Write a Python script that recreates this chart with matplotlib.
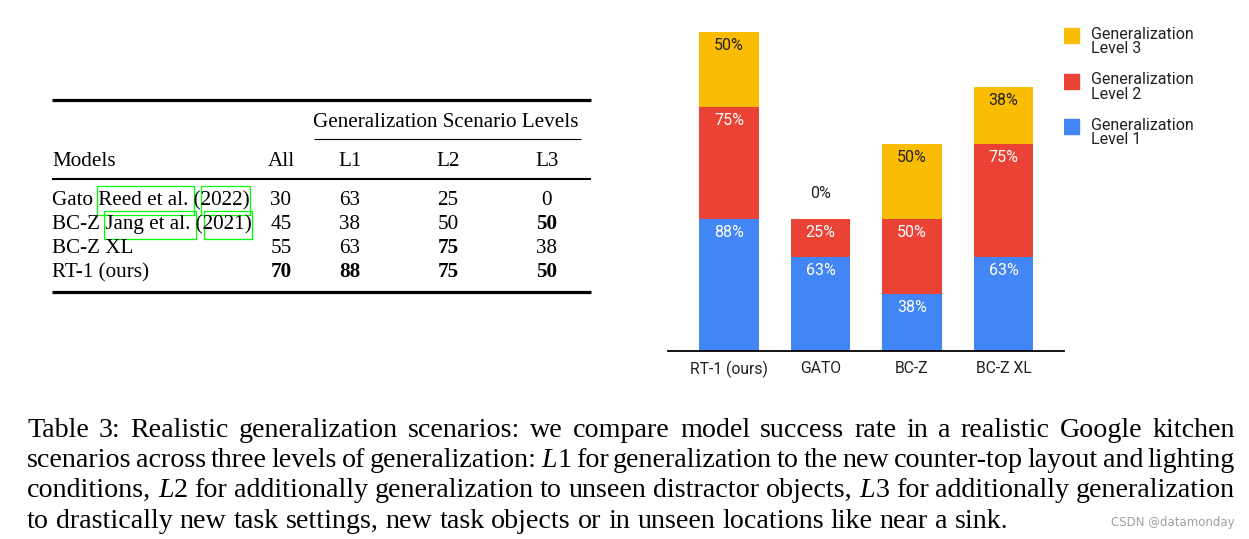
import matplotlib
matplotlib.use("Agg")
import matplotlib.pyplot as plt
from matplotlib.patches import Rectangle

# table data
models = ["Gato Reed et al. (2022)", "BC-Z Jang et al. (2021)", "BC-Z XL", "RT-1 (ours)"]
all_scores = [30, 45, 55, 70]
l1_scores = [63, 38, 63, 88]
l2_scores = [25, 50, 75, 75]
l3_scores = [0, 50, 38, 50]
bold_cells = {(3, 0), (3, 1), (1, 3), (2, 2), (3, 2), (3, 3)}  # (row, col) bold in the table

# bar chart data
bar_names = ["RT-1 (ours)", "GATO", "BC-Z", "BC-Z XL"]
level1 = [88, 63, 38, 63]
level2 = [75, 25, 50, 75]
level3 = [50, 0, 50, 38]
level_names = ["Generalization\nLevel 1", "Generalization\nLevel 2", "Generalization\nLevel 3"]
colors = ["#4285F4", "#EA4335", "#FBBC04"]

serif = "Liberation Serif"
sans = "Roboto"

fig = plt.figure(figsize=(12.49, 5.39), dpi=100)
ax0 = fig.add_axes([0, 0, 1, 1])
ax0.set_xlim(0, 1249)
ax0.set_ylim(539, 0)
ax0.axis("off")

# ---- table ----
fs_tab = 15.2
ax0.plot([52, 591], [100, 100], color="black", lw=2.3, solid_capstyle="butt")
ax0.plot([52, 591], [179, 179], color="black", lw=1.5, solid_capstyle="butt")
ax0.plot([52, 591], [292, 292], color="black", lw=2.3, solid_capstyle="butt")
ax0.plot([314, 581], [139, 139], color="black", lw=0.8, solid_capstyle="butt")

ax0.text(446, 127, "Generalization Scenario Levels", family=serif, size=fs_tab,
         ha="center", va="baseline")
col_x = [281, 350, 448, 547]
for x, h in zip([52] + col_x, ["Models", "All", "L1", "L2", "L3"]):
    ax0.text(x, 166, h, family=serif, size=fs_tab, ha="left" if h == "Models" else "center",
             va="baseline")

row_y = [205, 229, 253, 277]
for i, name in enumerate(models):
    ax0.text(52, row_y[i], name, family=serif, size=fs_tab, ha="left", va="baseline")
    vals = [all_scores[i], l1_scores[i], l2_scores[i], l3_scores[i]]
    for j, v in enumerate(vals):
        ax0.text(col_x[j], row_y[i], str(v), family=serif, size=fs_tab, ha="center",
                 va="baseline", fontweight="bold" if (i, j) in bold_cells else "normal")

# citation link boxes
for x0, x1, y0, y1 in [(97, 194, 186, 215), (201, 250, 186, 215),
                       (104, 196, 211, 239), (204, 252, 211, 239)]:
    ax0.add_patch(Rectangle((x0, y0), x1 - x0, y1 - y0, fill=False, ec="#00FF00", lw=0.9))

# ---- stacked bar chart ----
ax = fig.add_axes([668 / 1249, (539 - 351) / 539, 396 / 1249, 331 / 539])
x = list(range(len(bar_names)))
bottoms = [0] * len(x)
for vals, c, lab in zip([level1, level2, level3], colors, level_names):
    ax.bar(x, vals, 0.65, bottom=bottoms, color=c, label=lab, zorder=2)
    for i, v in enumerate(vals):
        top = bottoms[i] + v
        if v == 0:
            ax.text(i, top + 16.7, f"{v}%", ha="center", va="center", family=sans,
                    size=11.5, color="#222222")
        else:
            ax.text(i, top - 9.3, f"{v}%", ha="center", va="center", family=sans,
                    size=11.5, color="#222222" if c == colors[2] else "white")
    bottoms = [b + v for b, v in zip(bottoms, vals)]

ax.set_xlim(-0.667, 3.661)
ax.set_ylim(0, 220.7)
for s in ["top", "right", "left"]:
    ax.spines[s].set_visible(False)
ax.spines["bottom"].set_linewidth(1.3)
ax.set_yticks([])
ax.set_xticks(x)
ax.set_xticklabels(bar_names, family=sans, size=11.3, color="#222222")
ax.tick_params(axis="x", length=0, pad=7)

# legend drawn by hand as squares + text
for k, (c, lab) in enumerate(zip(colors[::-1], level_names[::-1])):
    yc = 35.5 + 45.5 * k
    ax0.add_patch(Rectangle((1063, yc - 7.5), 16, 15, color=c))
    ax0.text(1091, yc + 6, lab, family=sans, size=11.5, color="#222222",
             ha="left", va="center", linespacing=0.92)

# ---- caption, justified ----
renderer = fig.canvas.get_renderer()
fs_cap = 20.2
cap_lines = [
    "Table 3: Realistic generalization scenarios: we compare model success rate in a realistic Google kitchen",
    "scenarios across three levels of generalization: _L1 for generalization to the new counter-top layout and lighting",
    "conditions, _L2 for additionally generalization to unseen distractor objects, _L3 for additionally generalization",
    "to drastically new task settings, new task objects or in unseen locations like near a sink.",
]
cap_base = [437, 467, 497, 528]
cap_x0, cap_x1 = 27, 1235


def word_pieces(w):
    # words starting with "_" get an italic math letter, digit stays upright
    if w.startswith("_"):
        return [(w[1], "italic"), (w[2:], "normal")]
    return [(w, "normal")]


def measure(s, style):
    t = ax0.text(0, 0, s, family=serif, size=fs_cap, style=style)
    w = t.get_window_extent(renderer).width
    t.remove()
    return w


space_w = measure("a a", "normal") - measure("aa", "normal")

for li, line in enumerate(cap_lines):
    words = line.split(" ")
    widths = [sum(measure(s, st) for s, st in word_pieces(w)) for w in words]
    if li < len(cap_lines) - 1:
        gap = (cap_x1 - cap_x0 - sum(widths)) / (len(words) - 1)
    else:
        gap = space_w
    xpos = cap_x0
    for w, wd in zip(words, widths):
        xx = xpos
        for s, st in word_pieces(w):
            ax0.text(xx, cap_base[li], s, family=serif, size=fs_cap, style=st,
                     ha="left", va="baseline")
            xx += measure(s, st)
        xpos += wd + gap

ax0.text(1235, 526, "CSDN @datamonday", family="DejaVu Sans", size=8.5, color="#a0a0a0",
         ha="right", va="baseline")

fig.savefig("out.png", dpi=100)
